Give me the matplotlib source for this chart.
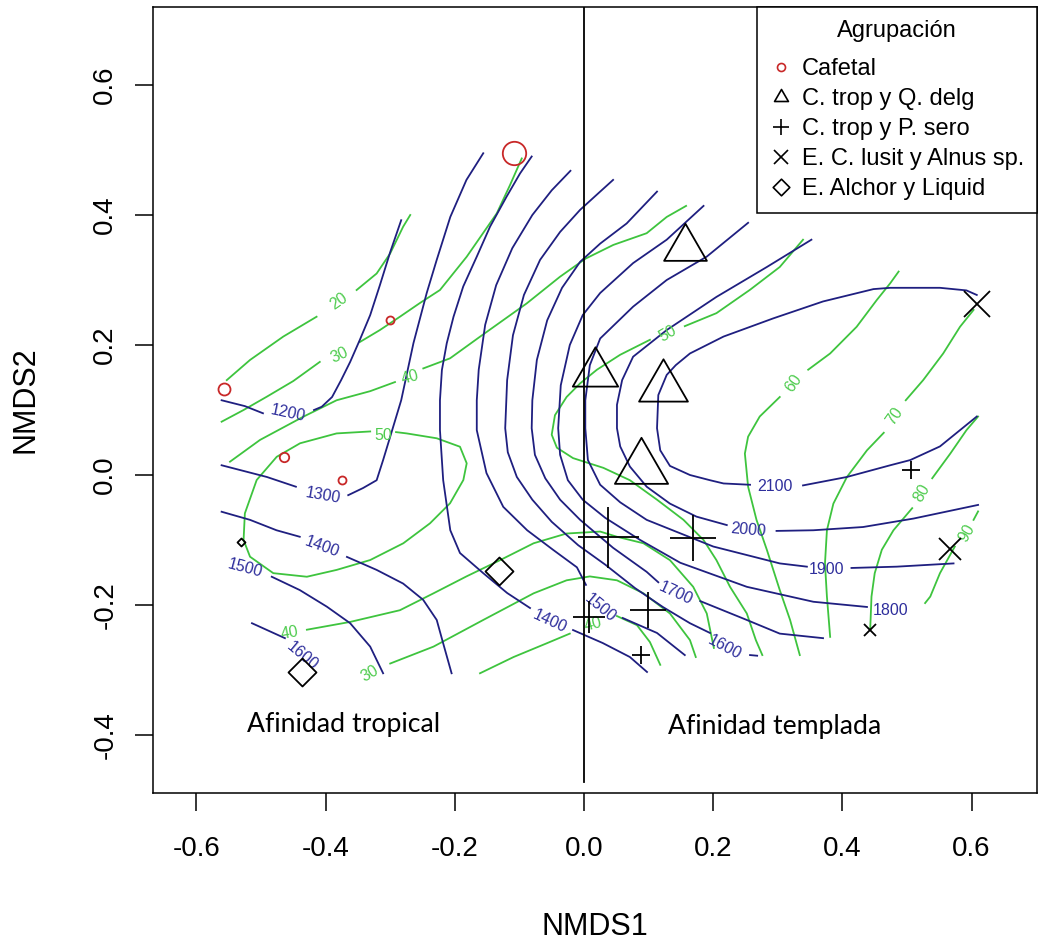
import matplotlib
matplotlib.use("Agg")
import matplotlib.pyplot as plt
from matplotlib.path import Path
from matplotlib.lines import Line2D
import numpy as np

nan = float("nan")

# ---------------- points (NMDS scores) ----------------
caf_x = [-0.108, -0.300, -0.558, -0.464, -0.375]
caf_y = [0.496, 0.238, 0.133, 0.027, -0.007]
caf_w = [11.7, 4.0, 6.0, 4.7, 4.0]

tri_x = [0.156, 0.017, 0.123, 0.088]
tri_y = [0.350, 0.157, 0.135, 0.011]
tri_w = [24.7, 26.2, 28.2, 30.7]

pls_x = [0.037, 0.169, 0.0996, 0.008, 0.088, 0.506]
pls_y = [-0.095, -0.097, -0.208, -0.219, -0.277, 0.007]
pls_w = [30.5, 23.5, 17.8, 15.7, 9.0, 9.0]

crs_x = [0.609, 0.567, 0.442]
crs_y = [0.263, -0.114, -0.238]
crs_w = [13.3, 11.0, 6.3]

dia_x = [-0.132, -0.437, -0.531]
dia_y = [-0.148, -0.3035, -0.1035]
dia_w = [14.0, 14.0, 4.0]

# ---------------- elevation contours (blue) ----------------
b1200 = [(-0.561, 0.115), (-0.525, 0.106), (-0.497, 0.095), (nan, nan), (-0.418, 0.100), (-0.406, 0.105),
         (-0.390, 0.120), (-0.376, 0.146), (-0.362, 0.174), (-0.347, 0.208), (-0.331, 0.246), (-0.316, 0.292),
         (-0.300, 0.343), (-0.283, 0.392)]
b1300 = [(-0.561, 0.015), (-0.491, -0.003), (-0.446, -0.018), (nan, nan), (-0.365, -0.031), (-0.342, -0.020),
         (-0.321, -0.008), (-0.311, 0.023), (-0.300, 0.059), (-0.283, 0.115), (-0.264, 0.203), (-0.2435, 0.280),
         (-0.228, 0.331), (-0.207, 0.397), (-0.182, 0.454), (-0.156, 0.495)]
b1400a = [(-0.561, -0.0565), (-0.517, -0.069), (-0.476, -0.085), (-0.440, -0.095), (nan, nan), (-0.367, -0.126),
          (-0.321, -0.146), (-0.280, -0.167), (-0.249, -0.192), (-0.228, -0.223), (-0.218, -0.259), (-0.205, -0.305)]
b1500a = [(-0.4834, -0.1565), (-0.440, -0.177), (-0.398, -0.2026), (-0.362, -0.228), (-0.331, -0.264),
          (-0.311, -0.305)]
b1600a = [(-0.514, -0.228), (-0.463, -0.251)]
b1400b = [(-0.081, 0.490), (-0.099, 0.464), (-0.120, 0.428), (-0.1455, 0.382), (-0.166, 0.336), (-0.187, 0.290),
          (-0.202, 0.2435), (-0.2125, 0.2026), (-0.220, 0.1615), (-0.223, 0.115), (-0.223, 0.069), (-0.218, -0.008),
          (-0.207, -0.085), (-0.192, -0.120), (-0.156, -0.151), (-0.119, -0.1815), (-0.0836, -0.2046), (nan, nan),
          (-0.017, -0.2385), (0.029, -0.2585), (0.071, -0.280), (0.0975, -0.303)]
b1500b = [(-0.021, 0.468), (-0.050, 0.438), (-0.080, 0.400), (-0.111, 0.349), (-0.136, 0.292), (-0.153, 0.231),
          (-0.163, 0.162), (-0.166, 0.115), (-0.166, 0.069), (-0.151, 0.003), (-0.125, -0.049), (-0.088, -0.085),
          (-0.048, -0.115), (-0.011, -0.142), (0.003, -0.169), (nan, nan), (0.060, -0.220), (0.113, -0.243),
          (0.156, -0.277)]
b1600b = [(0.045, 0.454), (0.025, 0.436), (-0.006, 0.408), (-0.037, 0.374), (-0.068, 0.331), (-0.093, 0.277),
          (-0.110, 0.215), (-0.119, 0.146), (-0.122, 0.072), (-0.118, 0.035), (-0.104, -0.003), (-0.080, -0.038),
          (-0.050, -0.072), (-0.009, -0.108), (0.033, -0.138), (0.079, -0.174), (0.122, -0.203), (0.164, -0.228),
          (0.195, -0.243), (nan, nan), (0.257, -0.277), (0.268, -0.278)]
b1700 = [(0.113, 0.436), (0.066, 0.387), (0.025, 0.356), (-0.006, 0.328), (-0.034, 0.288), (-0.057, 0.238),
         (-0.073, 0.177), (-0.080, 0.115), (-0.081, 0.072), (-0.076, 0.031), (-0.060, -0.005), (-0.037, -0.038),
         (-0.006, -0.069), (0.045, -0.112), (0.097, -0.149), (0.115, -0.165), (nan, nan), (0.180, -0.194),
         (0.252, -0.223), (0.303, -0.244), (0.370, -0.251)]
b1800 = [(0.185, 0.414), (0.128, 0.362), (0.076, 0.326), (0.025, 0.280), (-0.002, 0.246), (-0.022, 0.200),
         (-0.036, 0.138), (-0.040, 0.072), (-0.037, 0.031), (-0.025, -0.008), (-0.002, -0.038), (0.033, -0.066),
         (0.087, -0.100), (0.149, -0.135), (0.252, -0.172), (0.355, -0.195), (0.438, -0.203)]
b1900 = [(0.254, 0.388), (0.190, 0.336), (0.128, 0.300), (0.076, 0.259), (0.025, 0.210), (0.009, 0.169),
         (0.002, 0.115), (0.002, 0.072), (0.006, 0.023), (0.025, -0.015), (0.056, -0.042), (0.097, -0.069),
         (0.200, -0.110), (0.303, -0.136), (0.345, -0.141), (nan, nan), (0.414, -0.143), (0.484, -0.141),
         (0.572, -0.136)]
b2000 = [(0.352, 0.362), (0.283, 0.320), (0.205, 0.274), (0.128, 0.223), (0.076, 0.182), (0.059, 0.146),
         (0.051, 0.108), (0.051, 0.072), (0.056, 0.044), (0.071, 0.013), (0.097, -0.018), (0.133, -0.044),
         (0.174, -0.064), (0.221, -0.077), (nan, nan), (0.298, -0.086), (0.355, -0.085), (0.432, -0.080),
         (0.510, -0.067), (0.610, -0.046)]
b2100 = [(0.608, 0.277), (0.592, 0.284), (0.551, 0.288), (0.474, 0.288), (0.448, 0.286), (0.370, 0.267),
         (0.293, 0.241), (0.216, 0.213), (0.164, 0.187), (0.142, 0.169), (0.128, 0.154), (0.115, 0.123),
         (0.113, 0.072), (0.118, 0.038), (0.133, 0.014), (0.164, 0.000), (0.195, -0.008), (0.216, -0.013),
         (0.257, -0.015), (nan, nan), (0.339, -0.016), (0.407, -0.003), (0.474, 0.015), (0.505, 0.023),
         (0.551, 0.044), (0.608, 0.090)]
blue_lines = [b1200, b1300, b1400a, b1500a, b1600a, b1400b, b1500b, b1600b, b1700, b1800, b1900, b2000, b2100]

blue_lab_text = ["1200", "1300", "1400", "1500", "1600", "1400", "1500", "1600", "1700", "1800", "1900", "2000", "2100"]
blue_lab_x = [-0.458, -0.404, -0.405, -0.525, -0.436, -0.053, 0.025, 0.218, 0.142, 0.474, 0.376, 0.254, 0.296]
blue_lab_y = [0.095, -0.031, -0.111, -0.1435, -0.279, -0.2246, -0.205, -0.265, -0.182, -0.208, -0.145, -0.085, -0.018]
blue_lab_rot = [-12, -10, -20, -15, -40, -25, -40, -28, -25, 0, 0, -5, 0]

# ---------------- second variable contours (green) ----------------
g20 = [(-0.553, 0.146), (-0.517, 0.177), (-0.4655, 0.213), (-0.414, 0.2435), (nan, nan), (-0.352, 0.2846),
       (-0.321, 0.310), (-0.300, 0.341), (-0.280, 0.382), (-0.269, 0.400)]
g30a = [(-0.561, 0.082), (-0.527, 0.100), (-0.491, 0.1205), (-0.450, 0.1446), (-0.409, 0.174), (nan, nan),
        (-0.347, 0.2046), (-0.316, 0.223), (-0.285, 0.2435), (-0.254, 0.2646), (-0.223, 0.2846), (-0.1816, 0.3358),
        (-0.135, 0.4026), (-0.1146, 0.446), (-0.0964, 0.487)]
g40a = [(-0.548, 0.0205), (-0.5015, 0.054), (-0.4345, 0.0897), (-0.383, 0.115), (-0.331, 0.129), (-0.2926, 0.143),
        (nan, nan), (-0.2488, 0.164), (-0.2074, 0.1795), (-0.161, 0.2128), (-0.0887, 0.264), (-0.0372, 0.305),
        (0.0026, 0.333), (0.0454, 0.354), (0.097, 0.372), (0.128, 0.397), (0.158, 0.414)]
g50a = [(-0.291, 0.066), (-0.2745, 0.064), (-0.228, 0.0565), (-0.192, 0.0435), (-0.1816, 0.018), (-0.1868, -0.0077),
        (-0.2074, -0.0435), (-0.2384, -0.0743), (-0.2797, -0.105), (-0.331, -0.1308), (-0.383, -0.146),
        (-0.429, -0.1565), (-0.481, -0.151), (-0.517, -0.1257), (-0.527, -0.100), (-0.525, -0.059),
        (-0.5067, -0.0077), (-0.4757, 0.028), (-0.4396, 0.0488), (-0.383, 0.064), (-0.331, 0.067)]
g50b = [(0.339, 0.362), (0.303, 0.320), (0.257, 0.285), (0.205, 0.249), (0.156, 0.229), (nan, nan),
        (0.102, 0.208), (0.056, 0.185), (0.020, 0.162), (-0.006, 0.141), (-0.027, 0.120), (-0.045, 0.092),
        (-0.050, 0.062), (-0.042, 0.042), (-0.017, 0.026), (0.030, 0.011), (0.071, -0.008), (0.113, -0.038),
        (0.154, -0.069), (0.185, -0.100), (0.205, -0.131), (0.226, -0.172), (0.252, -0.213), (0.266, -0.254),
        (0.276, -0.277)]
g60 = [(0.487, 0.313), (0.474, 0.295), (0.453, 0.269), (0.422, 0.228), (0.381, 0.187), (0.347, 0.162), (nan, nan),
       (0.303, 0.120), (0.272, 0.090), (0.254, 0.059), (0.249, 0.033), (0.254, -0.018), (0.267, -0.069),
       (0.283, -0.115), (0.303, -0.177), (0.319, -0.223), (0.334, -0.277)]
g70 = [(0.603, 0.254), (0.582, 0.228), (0.556, 0.187), (0.525, 0.146), (0.498, 0.115), (nan, nan), (0.464, 0.065),
       (0.438, 0.038), (0.407, -0.003), (0.386, -0.044), (0.376, -0.085), (0.373, -0.136), (0.376, -0.187),
       (0.381, -0.249)]
g80 = [(0.610, 0.090), (0.592, 0.069), (0.567, 0.033), (0.539, -0.005), (nan, nan), (0.508, -0.051),
       (0.479, -0.085), (0.461, -0.115), (0.450, -0.151), (0.445, -0.187), (0.443, -0.238)]
g90 = [(0.610, -0.056), (0.603, -0.069), (nan, nan), (0.574, -0.110), (0.551, -0.151), (0.536, -0.187),
       (0.528, -0.197)]
g40b = [(-0.429, -0.238), (-0.362, -0.226), (-0.285, -0.208), (-0.233, -0.182), (-0.182, -0.156), (-0.130, -0.131),
        (-0.078, -0.105), (-0.027, -0.090), (0.025, -0.087), (0.051, -0.095), (0.092, -0.105), (0.133, -0.131),
        (0.169, -0.172), (0.190, -0.213), (0.201, -0.266)]
g30b = [(-0.300, -0.290), (-0.233, -0.264), (-0.156, -0.223), (-0.078, -0.182), (-0.027, -0.162), (0.009, -0.156),
        (0.051, -0.162), (0.092, -0.182), (0.133, -0.213), (0.164, -0.254), (0.173, -0.280)]
g40c = [(-0.161, -0.305), (-0.109, -0.280), (-0.058, -0.259), (-0.022, -0.244), (nan, nan), (0.051, -0.217),
        (0.082, -0.231), (0.102, -0.257), (0.118, -0.292)]
green_lines = [g20, g30a, g40a, g50a, g50b, g60, g70, g80, g90, g40b, g30b, g40c]

green_lab_text = ["20", "30", "40", "50", "50", "60", "70", "80", "90", "40", "30", "40"]
green_lab_x = [-0.380, -0.3777, -0.2693, -0.3107, 0.130, 0.324, 0.481, 0.523, 0.592, -0.455, -0.331, 0.014]
green_lab_y = [0.2666, 0.1846, 0.151, 0.0615, 0.218, 0.141, 0.090, -0.028, -0.090, -0.243, -0.305, -0.229]
green_lab_rot = [35, 25, 15, 0, 30, 55, 55, 60, 60, 10, 30, 15]

legend_title = "Agrupación"
group_names = ["Cafetal", "C. trop y Q. delg", "C. trop y P. sero", "E. C. lusit y Alnus sp.", "E. Alchor y Liquid"]
region_labels = ["Afinidad tropical", "Afinidad templada"]
region_x = [-0.522, 0.1305]
region_y = [-0.395, -0.398]
x_ticks = [-0.6, -0.4, -0.2, 0.0, 0.2, 0.4, 0.6]
y_ticks = [-0.4, -0.2, 0.0, 0.2, 0.4, 0.6]

# ---------------- styling ----------------
plt.rcParams["font.family"] = ["Liberation Sans", "DejaVu Sans"]
plt.rcParams["axes.unicode_minus"] = False

BLUE = "#1f1f80"
BLUE_T = "#2e2e9c"
GREEN = "#3ec43e"
GREEN_T = "#4fcc4f"
RED = "#c82828"

DPI = 100
PX2PT = 72.0 / DPI

fig = plt.figure(figsize=(10.39, 9.41), dpi=DPI)
ax = fig.add_axes([153 / 1039, 1 - 793 / 941, 884 / 1039, 786 / 941])
ax.set_xlim(-0.6672, 0.7012)
ax.set_ylim(-0.4892, 0.72)

for seg in green_lines:
    a = np.array(seg, dtype=float)
    ax.plot(a[:, 0], a[:, 1], color=GREEN, lw=1.3, solid_joinstyle="round", zorder=2)
for seg in blue_lines:
    a = np.array(seg, dtype=float)
    ax.plot(a[:, 0], a[:, 1], color=BLUE, lw=1.3, solid_joinstyle="round", zorder=3)

for t, x, y, r in zip(blue_lab_text, blue_lab_x, blue_lab_y, blue_lab_rot):
    ax.text(x, y, t, color=BLUE_T, fontsize=11.5, rotation=r, ha="center", va="center",
            rotation_mode="anchor", zorder=4)
for t, x, y, r in zip(green_lab_text, green_lab_x, green_lab_y, green_lab_rot):
    ax.text(x, y, t, color=GREEN_T, fontsize=11.5, rotation=r, ha="center", va="center",
            rotation_mode="anchor", zorder=4)

# vertical divider
ax.plot([0, 0], [-0.472, 0.75], color="black", lw=1.3, zorder=5)

tri_marker = Path([(0, 1), (-0.866, -0.5), (0.866, -0.5), (0, 1)],
                  [Path.MOVETO, Path.LINETO, Path.LINETO, Path.CLOSEPOLY])
dia_marker = Path([(0, 1), (1, 0), (0, -1), (-1, 0), (0, 1)],
                  [Path.MOVETO, Path.LINETO, Path.LINETO, Path.LINETO, Path.CLOSEPOLY])


def draw(xs, ys, ws, marker, color):
    for x, y, w in zip(xs, ys, ws):
        ax.plot([x], [y], ls="none", marker=marker, ms=2 * w * PX2PT, mfc="none",
                mec=color, mew=1.3, zorder=6)


draw(caf_x, caf_y, caf_w, "o", RED)
draw(tri_x, tri_y, tri_w, tri_marker, "black")
draw(pls_x, pls_y, pls_w, "+", "black")
draw(crs_x, crs_y, crs_w, "x", "black")
draw(dia_x, dia_y, dia_w, dia_marker, "black")

# annotations
for t, x, y in zip(region_labels, region_x, region_y):
    ax.text(x, y, t, fontsize=19.2, family=["Lato", "DejaVu Sans"], ha="left", va="baseline", zorder=7)

# legend
handles = [
    Line2D([], [], ls="none", marker="o", ms=2 * 4.0 * PX2PT, mfc="none", mec=RED, mew=1.2),
    Line2D([], [], ls="none", marker=tri_marker, ms=2 * 8.0 * PX2PT, mfc="none", mec="black", mew=1.2),
    Line2D([], [], ls="none", marker="+", ms=2 * 8.3 * PX2PT, mfc="none", mec="black", mew=1.2),
    Line2D([], [], ls="none", marker="x", ms=2 * 6.7 * PX2PT, mfc="none", mec="black", mew=1.2),
    Line2D([], [], ls="none", marker=dia_marker, ms=2 * 8.3 * PX2PT, mfc="none", mec="black", mew=1.2),
]
LEG_FS = 17
LEG_LS = 0.34
leg = ax.legend(handles, group_names, title=legend_title, loc="upper right", bbox_to_anchor=(1, 1),
                borderaxespad=0, fontsize=LEG_FS, title_fontsize=LEG_FS, frameon=True, fancybox=False,
                edgecolor="black", framealpha=1, handlelength=0.9, handletextpad=0.45,
                labelspacing=LEG_LS, borderpad=0.55)
leg._legend_box.sep = LEG_LS * LEG_FS + 6
leg.get_frame().set_linewidth(1.1)
leg.set_zorder(10)

# axes
ax.set_xticks(x_ticks)
ax.set_xticklabels([f"{v:.1f}" for v in x_ticks])
ax.set_yticks(y_ticks)
ax.set_yticklabels([f"{v:.1f}" for v in y_ticks])
ax.tick_params(axis="both", direction="out", length=13, width=1.1, labelsize=20, color="black")
ax.tick_params(axis="x", pad=18)
ax.tick_params(axis="y", pad=12, labelrotation=90)
for lab in ax.get_yticklabels():
    lab.set_va("center")
for s in ax.spines.values():
    s.set_linewidth(1.1)
ax.set_xlabel("NMDS1", fontsize=22, labelpad=36)
ax.set_ylabel("NMDS2", fontsize=22, labelpad=37)

fig.savefig("out.png", dpi=DPI)
